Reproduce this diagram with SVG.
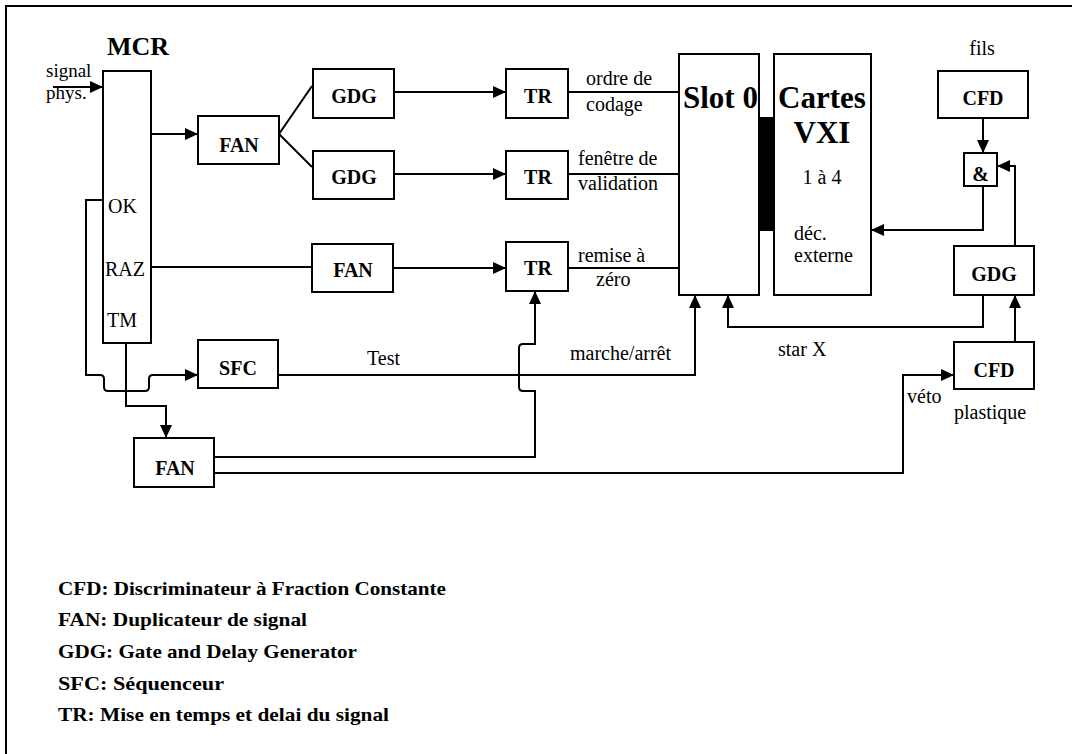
<svg xmlns="http://www.w3.org/2000/svg" width="1072" height="754" viewBox="0 0 1072 754">
<style>
.box{fill:#fff;stroke:#000;stroke-width:2}
.ln{fill:none;stroke:#000;stroke-width:2}
.arr{marker-end:url(#ah)}
text{font-family:'Liberation Serif','Times New Roman',serif}
.nb{font-weight:bold;font-size:20px;text-anchor:middle}
.big{font-weight:bold;font-size:31px}
.lbl{font-size:20px}
.leg{font-weight:bold;font-size:19px}
</style>
<defs>
<marker id="ah" markerUnits="userSpaceOnUse" markerWidth="14" markerHeight="12" refX="13" refY="6" orient="auto">
<path d="M0,0 L13,6 L0,12 Z" fill="#000"/>
</marker>
</defs>
<rect width="1072" height="754" fill="#fff"/>
<path class="ln" d="M6,754 V6 H1072"/>

<g id="connectors">
<path class="ln arr" d="M53,87 H103"/>
<path class="ln arr" d="M151,134 H198"/>
<path class="ln" d="M279,134 L312,86"/>
<path class="ln" d="M279,134 L312,167"/>
<path class="ln arr" d="M394,92 H506"/>
<path class="ln arr" d="M394,174 H506"/>
<path class="ln" d="M151,267 H312"/>
<path class="ln arr" d="M393,268 H506"/>
<path class="ln" d="M568,92 H679"/>
<path class="ln" d="M568,174 H679"/>
<path class="ln" d="M568,268 H679"/>
<path class="ln arr" d="M103,200 H86 V375 H100 Q104,375 104,379 V387 Q104,391 108,391 H145 Q149,391 149,387 V379 Q149,375 153,375 H198"/>
<path class="ln arr" d="M126,343 V406 H166 V438"/>
<path class="ln arr" d="M278,375 H695 V295"/>
<path class="ln arr" d="M214,457 H535 V391 H523 Q519,391 519,387 V348 Q519,344 523,344 H535 V291"/>
<path class="ln arr" d="M214,473 H903 V375 H954"/>
<path class="ln arr" d="M1015,342 V295"/>
<path class="ln arr" d="M1015,246 V166 H997"/>
<path class="ln arr" d="M983,118 V153"/>
<path class="ln arr" d="M983,186 V230 H871"/>
<path class="ln arr" d="M983,295 V327 H728 V295"/>
</g>

<g id="mcr">
<rect class="box" x="103" y="71" width="48" height="272"/>
<text x="138" y="55" class="nb" style="font-size:26px">MCR</text>
<text x="108" y="213" class="lbl">OK</text>
<text x="105" y="276" class="lbl">RAZ</text>
<text x="107" y="327" class="lbl">TM</text>
</g>
<g id="signal-label">
<text x="46" y="77" class="lbl" style="font-size:19px">signal</text>
<text x="46" y="99" class="lbl" style="font-size:19px">phys.</text>
</g>

<g id="fan1"><rect class="box" x="198" y="116" width="81" height="48"/><text x="239" y="152" class="nb">FAN</text></g>
<g id="gdg1"><rect class="box" x="313" y="69" width="81" height="49"/><text x="354" y="103" class="nb">GDG</text></g>
<g id="gdg2"><rect class="box" x="313" y="151" width="81" height="48"/><text x="354" y="184" class="nb">GDG</text></g>
<g id="fan2"><rect class="box" x="312" y="244" width="81" height="48"/><text x="353" y="277" class="nb">FAN</text></g>
<g id="tr1"><rect class="box" x="506" y="69" width="62" height="49"/><text x="538" y="103" class="nb">TR</text></g>
<g id="tr2"><rect class="box" x="506" y="151" width="62" height="48"/><text x="538" y="184" class="nb">TR</text></g>
<g id="tr3"><rect class="box" x="506" y="242" width="62" height="49"/><text x="538" y="275" class="nb">TR</text></g>
<g id="sfc"><rect class="box" x="198" y="340" width="80" height="48"/><text x="238" y="375" class="nb">SFC</text></g>
<g id="fan3"><rect class="box" x="134" y="438" width="80" height="49"/><text x="175" y="475" class="nb">FAN</text></g>

<g id="slot0">
<rect class="box" x="679" y="54" width="80" height="241"/>
<text x="683" y="108" class="big">Slot 0</text>
</g>
<rect id="bus" x="758" y="117" width="18" height="114" fill="#000"/>
<g id="vxi">
<rect class="box" x="774" y="54" width="97" height="241"/>
<text x="822" y="108" class="big" text-anchor="middle">Cartes</text>
<text x="822" y="143" class="big" text-anchor="middle">VXI</text>
<text x="822" y="184" class="lbl" text-anchor="middle">1 à 4</text>
<text x="794" y="240" class="lbl">déc.</text>
<text x="794" y="262" class="lbl">externe</text>
</g>

<g id="cfd1"><rect class="box" x="938" y="71" width="90" height="47"/><text x="983" y="105" class="nb">CFD</text><text x="982" y="55" class="lbl" text-anchor="middle">fils</text></g>
<g id="and"><rect class="box" x="964" y="153" width="33" height="33"/><text x="980.5" y="181" class="nb">&amp;</text></g>
<g id="gdg3"><rect class="box" x="954" y="246" width="80" height="49"/><text x="994" y="281" class="nb">GDG</text></g>
<g id="cfd2"><rect class="box" x="954" y="342" width="80" height="47"/><text x="994" y="377" class="nb">CFD</text><text x="954" y="419" class="lbl">plastique</text></g>

<g id="labels">
<text x="586" y="85" class="lbl">ordre de</text>
<text x="586" y="111" class="lbl">codage</text>
<text x="578" y="165" class="lbl">fenêtre de</text>
<text x="578" y="190" class="lbl">validation</text>
<text x="578" y="262" class="lbl">remise à</text>
<text x="596" y="286" class="lbl">zéro</text>
<text x="367" y="365" class="lbl">Test</text>
<text x="570" y="360" class="lbl">marche/arrêt</text>
<text x="778" y="356" class="lbl">star X</text>
<text x="907" y="403" class="lbl">véto</text>
</g>

<g id="legend">
<text x="58" y="595" class="leg" textLength="388" lengthAdjust="spacingAndGlyphs">CFD: Discriminateur à Fraction Constante</text>
<text x="58" y="626" class="leg" textLength="249" lengthAdjust="spacingAndGlyphs">FAN: Duplicateur de signal</text>
<text x="58" y="658" class="leg" textLength="299" lengthAdjust="spacingAndGlyphs">GDG: Gate and Delay Generator</text>
<text x="58" y="690" class="leg" textLength="166" lengthAdjust="spacingAndGlyphs">SFC: Séquenceur</text>
<text x="58" y="721" class="leg" textLength="331" lengthAdjust="spacingAndGlyphs">TR: Mise en temps et delai du signal</text>
</g>
</svg>
